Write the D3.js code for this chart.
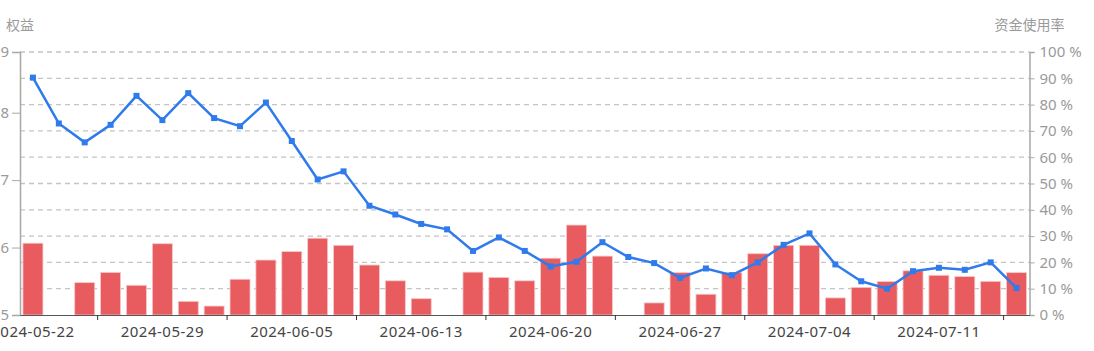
<!DOCTYPE html>
<html>
<head>
<meta charset="utf-8">
<script src="https://cdn.jsdelivr.net/npm/d3@7"></script>
<style>
  body { margin: 0; background: #fff; }
  text { font-family: "Noto Sans", "Noto Sans CJK SC", sans-serif; }
</style>
</head>
<body>
<svg id="chart" width="1094" height="351"></svg>
<script>
// trading days
let dates = [
  "2024-05-22","2024-05-23","2024-05-24","2024-05-27","2024-05-28",
  "2024-05-29","2024-05-30","2024-05-31","2024-06-03","2024-06-04",
  "2024-06-05","2024-06-06","2024-06-07","2024-06-11","2024-06-12",
  "2024-06-13","2024-06-14","2024-06-17","2024-06-18","2024-06-19",
  "2024-06-20","2024-06-21","2024-06-24","2024-06-25","2024-06-26",
  "2024-06-27","2024-06-28","2024-07-01","2024-07-02","2024-07-03",
  "2024-07-04","2024-07-05","2024-07-08","2024-07-09","2024-07-10",
  "2024-07-11","2024-07-12","2024-07-15","2024-07-16"
]

// 权益 (left axis, line)
let equity = [
  8.52, 7.84, 7.56, 7.82, 8.25, 7.89, 8.29, 7.92, 7.80, 8.15,
  7.58, 7.01, 7.13, 6.62, 6.49, 6.35, 6.27, 5.95, 6.15, 5.95,
  5.72, 5.79, 6.08, 5.86, 5.77, 5.55, 5.69, 5.59, 5.78, 6.04,
  6.21, 5.75, 5.50, 5.39, 5.65, 5.70, 5.67, 5.78, 5.40
]

// 资金使用率 (right axis, bars, %)
let usage = [
  27.3, 0, 12.3, 16.2, 11.3, 27.1, 5.2, 3.4, 13.6, 20.9,
  24.1, 29.2, 26.5, 19.0, 13.0, 6.2, 0, 16.3, 14.3, 13.0,
  21.6, 34.2, 22.4, 0, 4.6, 16.1, 7.9, 16.1, 23.3, 26.5,
  26.5, 6.5, 10.5, 12.7, 16.8, 15.1, 14.6, 12.8, 16.1
]

let leftTicks = [5, 6, 7, 8, 8.9]
let rightTicks = [0, 10, 20, 30, 40, 50, 60, 70, 80, 90, 100]

let svg = d3.select("#chart")
let margin = { top: 52, right: 64.5, bottom: 36, left: 20 }
let width = 1094, height = 351

let x = d3.scaleBand()
  .domain(dates)
  .range([margin.left, width - margin.right])

let yL = d3.scaleLinear()
  .domain([5, 8.9])
  .range([height - margin.bottom, margin.top])

let yR = d3.scaleLinear()
  .domain([0, 100])
  .range([height - margin.bottom, margin.top])

// grid lines from right axis
svg.append("g")
  .selectAll("line")
  .data(rightTicks.slice(1))
  .join("line")
  .attr("x1", margin.left)
  .attr("x2", width - margin.right)
  .attr("y1", d => yR(d))
  .attr("y2", d => yR(d))
  .attr("stroke", "#c4c4c4")
  .attr("stroke-width", 1.3)
  .attr("stroke-dasharray", "5,4")

// bars
let bw = 20
svg.append("g")
  .selectAll("rect")
  .data(usage)
  .join("rect")
  .attr("x", (d, i) => x(dates[i]) + (x.bandwidth() - bw) / 2)
  .attr("y", d => yR(d))
  .attr("width", bw)
  .attr("height", d => yR(0) - yR(d))
  .attr("fill", "#e85b5e")
  .attr("stroke", "#f6c9cb")
  .attr("stroke-width", 0.8)

// left axis
let yAxisL = d3.axisLeft(yL)
  .tickValues(leftTicks)
  .tickSize(8)
  .tickPadding(3)
  .tickFormat(d3.format(".0f"))

svg.append("g")
  .attr("transform", `translate(${margin.left},0)`)
  .call(yAxisL)
  .call(g => g.select(".domain").attr("stroke", "#a8a8a8").attr("stroke-width", 1.5))
  .call(g => g.selectAll(".tick line").attr("stroke", "#a8a8a8"))
  .call(g => g.selectAll("text").attr("fill", "#9a9a9a").style("font-size", "15px"))

// right axis
let yAxisR = d3.axisRight(yR)
  .tickValues(rightTicks)
  .tickSize(5)
  .tickPadding(5)
  .tickFormat(d => d + " %")

svg.append("g")
  .attr("transform", `translate(${width - margin.right},0)`)
  .call(yAxisR)
  .call(g => g.select(".domain").attr("stroke", "#a8a8a8").attr("stroke-width", 1.5))
  .call(g => g.selectAll(".tick line").attr("stroke", "#a8a8a8"))
  .call(g => g.selectAll("text").attr("fill", "#9a9a9a").style("font-size", "15px"))

// x axis
let xAxis = d3.axisBottom(x)
  .tickValues(dates.filter((d, i) => i % 5 == 0))
  .tickSize(0)
  .tickPadding(11)

svg.append("g")
  .attr("transform", `translate(0,${height - margin.bottom})`)
  .call(xAxis)
  .call(g => g.select(".domain").attr("stroke", "#555").attr("stroke-width", 1.2))
  .call(g => g.selectAll("text").attr("fill", "#444").style("font-size", "15px").style("letter-spacing", "0.5px"))

// x ticks sit on band edges
svg.append("g")
  .selectAll("line")
  .data(dates.filter((d, i) => i % 5 == 3))
  .join("line")
  .attr("x1", d => x(d))
  .attr("x2", d => x(d))
  .attr("y1", height - margin.bottom)
  .attr("y2", height - margin.bottom + 5)
  .attr("stroke", "#333")

// line
let line = d3.line()
  .x((d, i) => x(dates[i]) + x.bandwidth() / 2)
  .y(d => yL(d))

svg.append("path")
  .datum(equity)
  .attr("fill", "none")
  .attr("stroke", "#2f7bec")
  .attr("stroke-width", 2.5)
  .attr("d", line)

svg.append("g")
  .selectAll("rect")
  .data(equity)
  .join("rect")
  .attr("x", (d, i) => x(dates[i]) + x.bandwidth() / 2 - 3)
  .attr("y", d => yL(d) - 3)
  .attr("width", 6)
  .attr("height", 6)
  .attr("fill", "#2f7bec")

// axis names
svg.append("text")
  .attr("x", margin.left)
  .attr("y", 30)
  .attr("text-anchor", "middle")
  .attr("fill", "#9a9a9a")
  .style("font-family", "Noto Sans CJK SC")
  .style("font-size", "14px")
  .text("权益")

svg.append("text")
  .attr("x", width - margin.right)
  .attr("y", 30)
  .attr("text-anchor", "middle")
  .attr("fill", "#9a9a9a")
  .style("font-family", "Noto Sans CJK SC")
  .style("font-size", "14px")
  .text("资金使用率")
</script>
</body>
</html>
